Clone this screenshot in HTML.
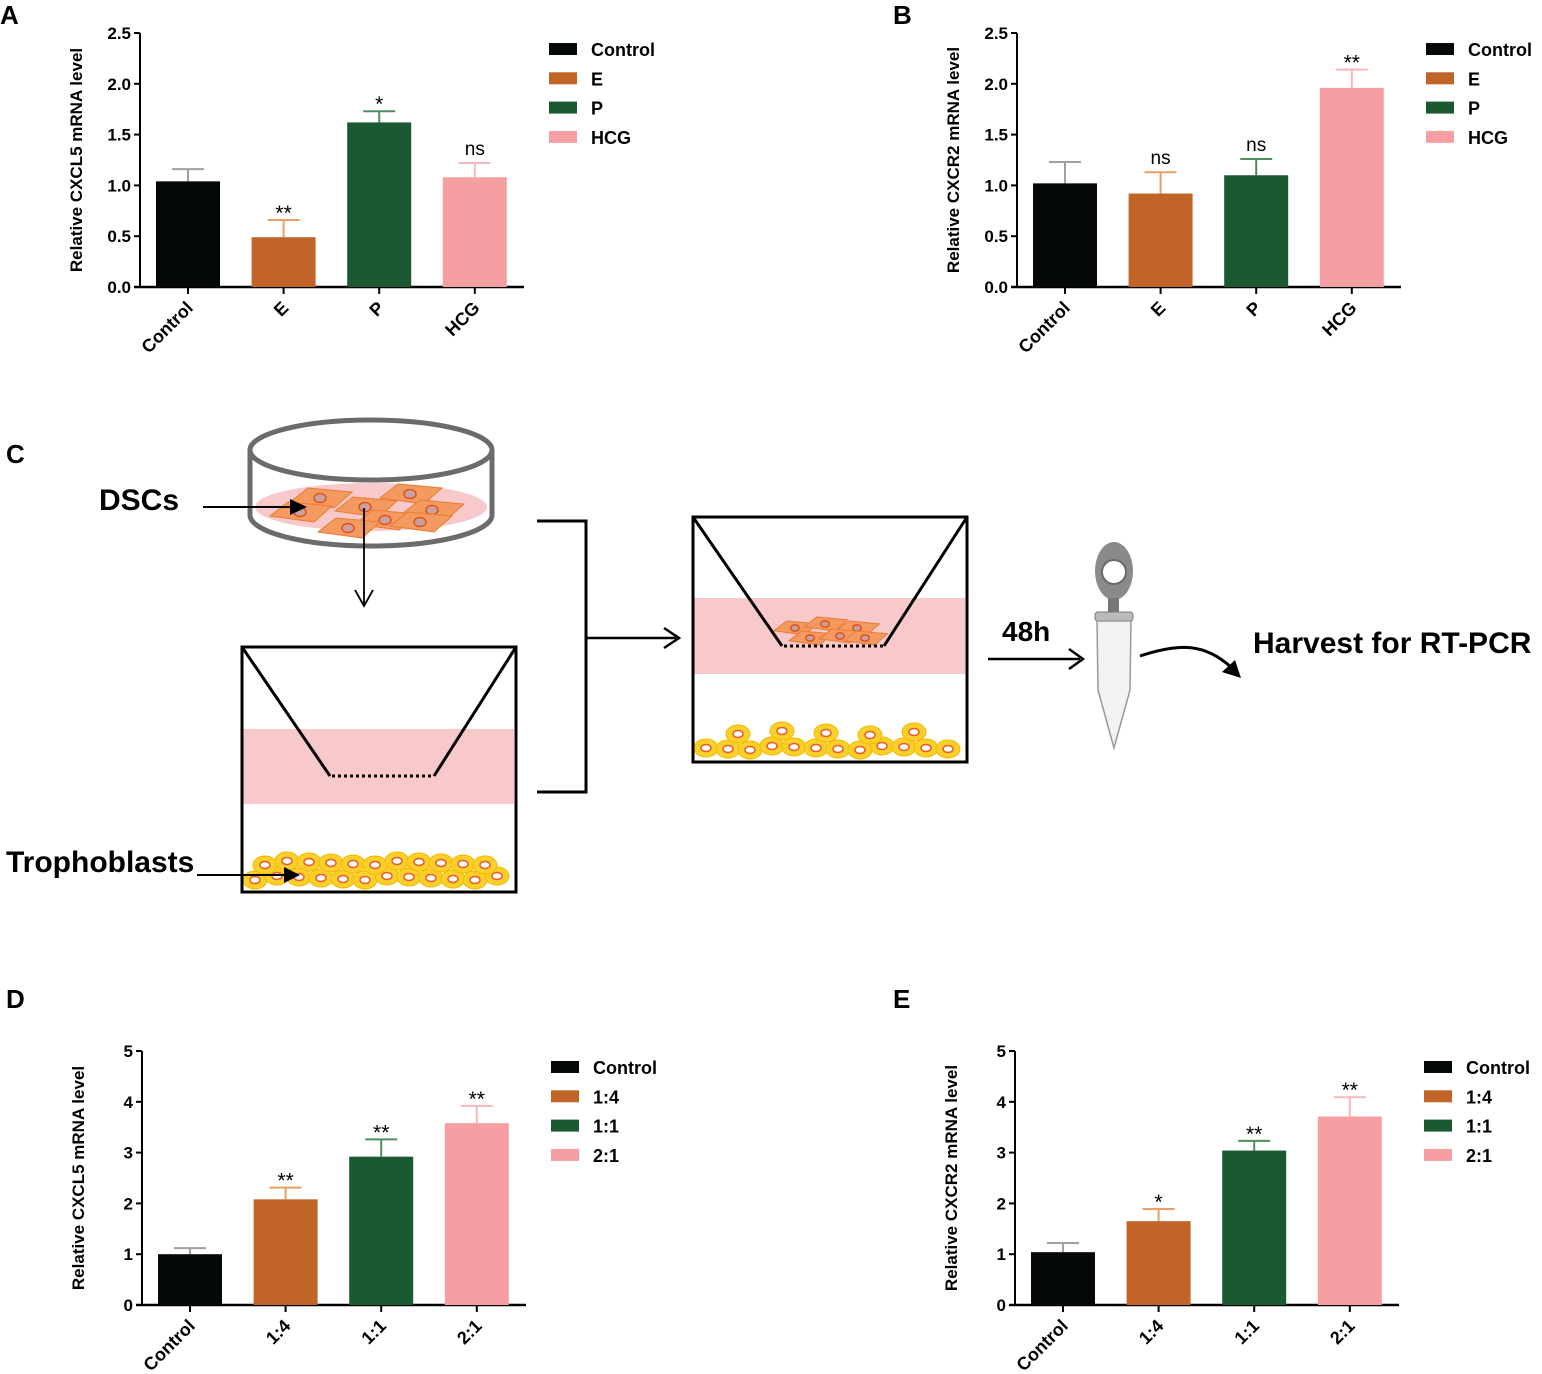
<!DOCTYPE html>
<html><head><meta charset="utf-8"><style>
html,body{margin:0;padding:0;background:#fff;width:1542px;height:1374px;overflow:hidden}
svg{display:block;font-family:"Liberation Sans",Arial,sans-serif}
.pl{font-weight:bold;font-size:26px}
.tk{font-size:17px;font-weight:bold}
.xk{font-size:18px;font-weight:bold}
.lg{font-size:18px;font-weight:bold}
.yt{font-size:17px;font-weight:bold}
.big{font-weight:bold}
</style></head><body>
<svg id="fig" width="1542" height="1374" viewBox="0 0 1542 1374">
<text class="pl" x="0" y="24">A</text>
<text class="pl" x="893" y="24">B</text>
<text class="pl" x="6" y="463">C</text>
<text class="pl" x="6" y="1008">D</text>
<text class="pl" x="893" y="1008">E</text>
<g id="charts"></g>
<g id="diagram">
  <g>
    <path d="M250,450 L250,515 A121,31 0 0 0 492,515 L492,450" fill="#fff" stroke="#6b6b6b" stroke-width="5"/>
    <ellipse cx="371" cy="507" rx="116" ry="24" fill="#f7c9cb"/>
    <g id="dsccells"></g>
    <ellipse cx="371" cy="450" rx="121" ry="30" fill="#fff" stroke="#6b6b6b" stroke-width="5"/>
  </g>
  <text class="big" x="99" y="510" font-size="30">DSCs</text>
  <line x1="203" y1="507" x2="295" y2="507" stroke="#000" stroke-width="2"/>
  <polygon points="307,507 290,499 290,515" fill="#000"/>
  <line x1="364" y1="508" x2="364" y2="604" stroke="#000" stroke-width="1.8"/>
  <polyline points="355,590 364,606 373,590" fill="none" stroke="#000" stroke-width="1.8"/>
  <g>
    <rect x="243" y="729" width="271" height="75" fill="#f8c9cb"/>
    <g id="tro1"></g>
    <rect x="242" y="647" width="274" height="245" fill="none" stroke="#000" stroke-width="3"/>
    <polyline points="242,647 330,776" fill="none" stroke="#000" stroke-width="3"/>
    <polyline points="434,776 516,647" fill="none" stroke="#000" stroke-width="3"/>
    <line x1="332" y1="776" x2="434" y2="776" stroke="#000" stroke-width="3" stroke-dasharray="3,3"/>
  </g>
  <text class="big" x="6" y="872" font-size="30">Trophoblasts</text>
  <line x1="197" y1="875" x2="288" y2="875" stroke="#000" stroke-width="2"/>
  <polygon points="300,875 284,867 284,883" fill="#000"/>
  <polyline points="537,521 586,521 586,792 537,792" fill="none" stroke="#000" stroke-width="3"/>
  <line x1="586" y1="638" x2="676" y2="638" stroke="#000" stroke-width="2.5"/>
  <polyline points="664,628 679,638 664,648" fill="none" stroke="#000" stroke-width="2.5"/>
  <g>
    <rect x="694" y="598" width="271" height="76" fill="#f8c9cb"/>
    <g id="dsc2"></g>
    <g id="tro2"></g>
    <rect x="693" y="517" width="274" height="245" fill="none" stroke="#000" stroke-width="3"/>
    <polyline points="693,517 782,646" fill="none" stroke="#000" stroke-width="3"/>
    <polyline points="884,646 967,517" fill="none" stroke="#000" stroke-width="3"/>
    <line x1="784" y1="646" x2="884" y2="646" stroke="#000" stroke-width="3" stroke-dasharray="3,3"/>
  </g>
  <text class="big" x="1002" y="641" font-size="28">48h</text>
  <line x1="988" y1="659" x2="1080" y2="659" stroke="#000" stroke-width="2.5"/>
  <polyline points="1069,649 1083,659 1069,669" fill="none" stroke="#000" stroke-width="2.5"/>
  <g>
    <ellipse cx="1114" cy="571" rx="19" ry="29" fill="#8a8a8a"/>
    <circle cx="1114" cy="572" r="12" fill="#fff" stroke="#6a6a6a" stroke-width="2"/>
    <rect x="1108" y="598" width="11" height="16" fill="#777"/>
    <rect x="1095" y="612" width="38" height="9" rx="3" fill="#bbb" stroke="#777"/>
    <path d="M1097,621 L1131,621 L1130,690 L1114,748 L1098,690 Z" fill="#f2f2f2" stroke="#999" stroke-width="1.5"/>
  </g>
  <path d="M1140,656 C1180,643 1205,643 1232,668" fill="none" stroke="#000" stroke-width="3"/>
  <polygon points="1241,678 1222,672 1235,660" fill="#000"/>
  <text class="big" x="1253" y="653" font-size="30">Harvest for RT-PCR</text>
</g>
</svg>
<script>
// Panel A data
const catA = ["Control","E","P","HCG"];
const valA = [1.04,0.49,1.62,1.08];
const errA = [0.12,0.17,0.11,0.14];
const sigA = ["","**","*","ns"];
const tickA = ["0.0","0.5","1.0","1.5","2.0","2.5"];
// Panel B data
const catB = ["Control","E","P","HCG"];
const valB = [1.02,0.92,1.10,1.96];
const errB = [0.21,0.21,0.16,0.18];
const sigB = ["","ns","ns","**"];
const tickB = ["0.0","0.5","1.0","1.5","2.0","2.5"];
// Panel D data
const catD = ["Control","1:4","1:1","2:1"];
const valD = [1.00,2.08,2.92,3.58];
const errD = [0.12,0.23,0.34,0.34];
const sigD = ["","**","**","**"];
const tickD = ["0","1","2","3","4","5"];
// Panel E data
const catE = ["Control","1:4","1:1","2:1"];
const valE = [1.04,1.65,3.04,3.71];
const errE = [0.18,0.24,0.19,0.38];
const sigE = ["","*","**","**"];
const tickE = ["0","1","2","3","4","5"];

const colors = ["#050808","#c06428","#1b5a30","#f59fa2"];
const errColors = ["#a0a0a0","#e8a060","#4f8f5f","#f8b8ba"];
const NS = "http://www.w3.org/2000/svg";
const root = document.getElementById('charts');
function mk(tag, attrs, parent){
  const e = document.createElementNS(NS, tag);
  for (const k in attrs) e.setAttribute(k, attrs[k]);
  (parent||root).appendChild(e);
  return e;
}
function chart(id, ax, y0, ytop, ymax, cats, vals, errs, sigs, ticks, ytitle, legX){
  const g = mk('g', {});
  
  
  const yS = v => y0 - (v / ymax) * (y0 - ytop);
  const xC = i => ax + 48 + i * 95.6;
  const ya = mk('line', {x1:ax, y1:ytop, x2:ax, y2:y0, stroke:'#000', 'stroke-width':2}, g);
  
  
  const xa = mk('line', {x1:ax-6, y1:y0, x2:ax+384, y2:y0, stroke:'#000', 'stroke-width':2.5}, g);
  
  
  ticks.forEach((t, k) => {
    const v = ymax * k / (ticks.length - 1);
    const y = yS(v);
    mk('line', {x1:ax-6, y1:y, x2:ax, y2:y, stroke:'#000', 'stroke-width':2}, g);
    const tx = mk('text', {x:ax-9, y:y+6, 'text-anchor':'end', class:'tk'}, g);
    tx.textContent = t;
    
    
  });
  const yt = mk('text', {x:0, y:0, class:'yt', 'text-anchor':'middle', transform:`translate(${ax-58},${(y0+ytop)/2}) rotate(-90)`}, g);
  yt.textContent = ytitle;
  
  
  cats.forEach((c, i) => {
    const cx = xC(i);
    const top = yS(vals[i]);
    const et = yS(vals[i] + errs[i]);
    mk('line', {x1:cx, y1:top, x2:cx, y2:et, stroke:errColors[i], 'stroke-width':2}, g);
    mk('line', {x1:cx-16, y1:et, x2:cx+16, y2:et, stroke:errColors[i], 'stroke-width':2}, g);
    const b = mk('rect', {x:cx-32, y:top, width:64, height:y0-top, fill:colors[i]}, g);
    
    
    if (sigs[i]) {
      const s = mk('text', {x:cx, y:et - (sigs[i]==='ns'?8:0), 'text-anchor':'middle', 'font-size':sigs[i]==='ns'?19:21}, g);
      s.textContent = sigs[i];
      
      
    }
    mk('line', {x1:cx, y1:y0, x2:cx, y2:y0+7, stroke:'#000', 'stroke-width':2}, g);
    const xl = mk('text', {x:0, y:0, class:'xk', 'text-anchor':'end', transform:`translate(${cx+6},${y0+22}) rotate(-45)`}, g);
    xl.textContent = c;
    
    
    const ly = (id==='A'||id==='B') ? 49 + i*29.3 : 1067 + i*29.3;
    const sw = mk('rect', {x:legX, y:ly-6, width:28, height:12, fill:colors[i]}, g);
    
    
    const lt = mk('text', {x:legX+42, y:ly+7, class:'lg'}, g);
    lt.textContent = c;
    
    
  });
}
chart('A', 140, 287, 33, 2.5, catA, valA, errA, sigA, tickA, 'Relative CXCL5 mRNA level', 549);
chart('B', 1017, 287, 33, 2.5, catB, valB, errB, sigB, tickB, 'Relative CXCR2 mRNA level', 1426);
chart('D', 142, 1305, 1051, 5, catD, valD, errD, sigD, tickD, 'Relative CXCL5 mRNA level', 551);
chart('E', 1015, 1305, 1051, 5, catE, valE, errE, sigE, tickE, 'Relative CXCR2 mRNA level', 1424);

function dsc(parent, x, y, s){
  const g = document.createElementNS(NS,'g'); parent.appendChild(g);
  mk('polygon', {points:`${x-30*s},${y+4*s} ${x-12*s},${y-10*s} ${x+32*s},${y-6*s} ${x+14*s},${y+10*s}`, fill:'#f39a60', stroke:'#ee7a30', 'stroke-width':1}, g);
  mk('ellipse', {cx:x, cy:y, rx:6*s, ry:4.5*s, fill:'#c9a0a0', stroke:'#e0501a', 'stroke-width':1.5}, g);
}
const dc = document.getElementById('dsccells');
[[320,498],[410,494],[365,507],[432,510],[300,512],[385,520],[348,528],[420,522]].forEach(p=>dsc(dc,p[0],p[1],1));
const d2 = document.getElementById('dsc2');
[[795,628],[825,624],[857,628],[810,638],[840,636],[865,638]].forEach(p=>dsc(d2,p[0],p[1],0.7));
function tro(parent, x0, x1, yb){
  for (let row=0; row<2; row++){
    for (let x=x0+10+row*10; x<x1-8; x+=22){
      const y = yb - 10 - row*15 - ((x*7)%5);
      if (row===1 && ((x*13)%4===0)) continue;
      mk('ellipse', {cx:x, cy:y, rx:12, ry:9, fill:'#fbd02a', stroke:'#f5b800', 'stroke-width':1}, parent);
      mk('ellipse', {cx:x, cy:y, rx:5, ry:3.5, fill:'#fff', stroke:'#ec5a2a', 'stroke-width':1.5}, parent);
    }
  }
}
tro(document.getElementById('tro1'), 245, 514, 890);
tro(document.getElementById('tro2'), 696, 965, 760);
</script>
</body></html>
